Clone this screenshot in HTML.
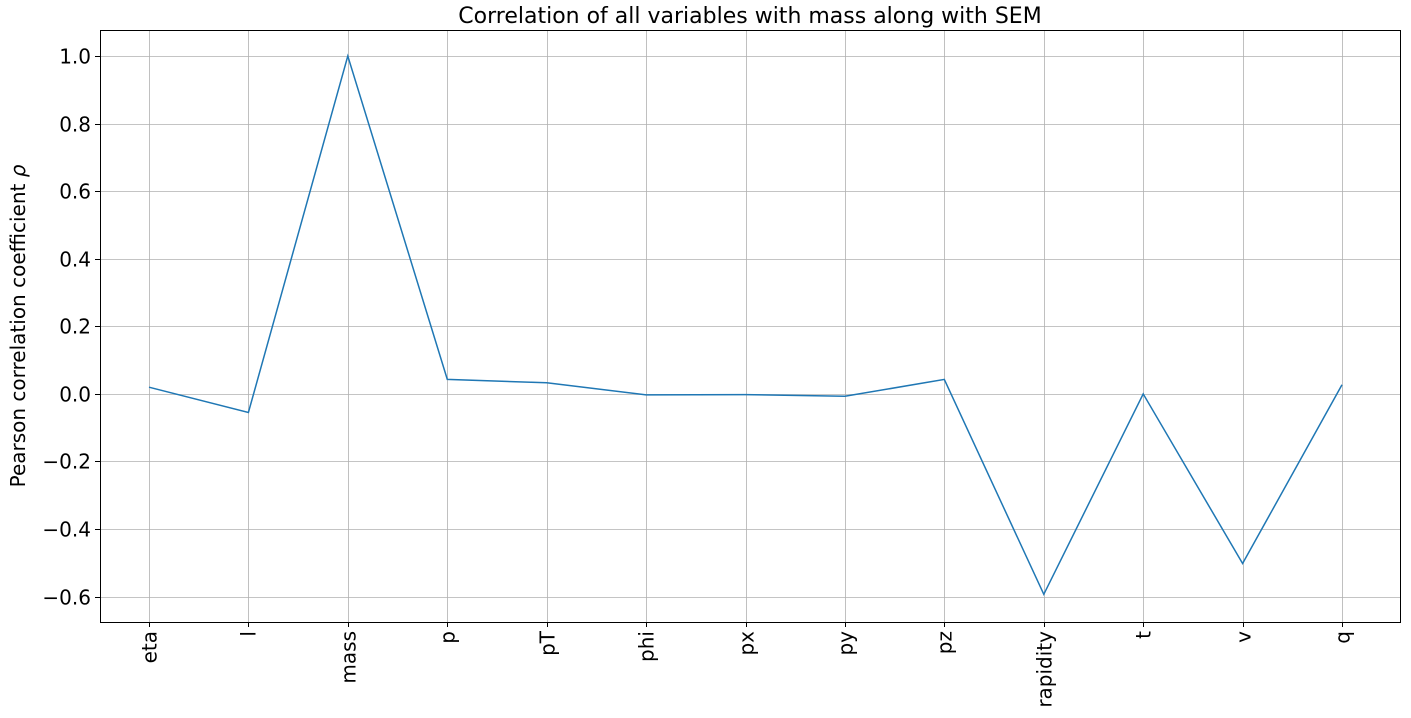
<!DOCTYPE html>
<html><head><meta charset="utf-8"><style>
html,body{margin:0;padding:0;background:#fff;}
svg text{font-family:"DejaVu Sans","Liberation Sans",sans-serif;fill:#000;}
</style></head><body>
<svg id="chart" width="1411" height="713" xmlns="http://www.w3.org/2000/svg">
<text x="750" y="23" font-size="22" text-anchor="middle">Correlation of all variables with mass along with SEM</text>
<text transform="translate(25,326) rotate(-90)" font-size="20" text-anchor="middle">Pearson correlation coefficient <tspan font-style="italic">ρ</tspan></text>
<g id="grid"></g><g id="ticks"></g><g id="series"></g>
<rect x="100.5" y="30.5" width="1300" height="592" fill="none" stroke="#000" stroke-width="1"/>
</svg>
<script>
const categories=["eta","l","mass","p","pT","phi","px","py","pz","rapidity","t","v","q"];
const values=[0.02,-0.055,1.0,0.043,0.033,-0.003,-0.002,-0.007,0.043,-0.593,0.0,-0.502,0.027];
const yTicks=[-0.6,-0.4,-0.2,0.0,0.2,0.4,0.6,0.8,1.0];
const yTickLabels=["−0.6","−0.4","−0.2","0.0","0.2","0.4","0.6","0.8","1.0"];
const NS="http://www.w3.org/2000/svg";
const L=100,R=1400,T=30,B=622;
const yMin=-0.675,yMax=1.077;
const y=v=>B-(v-yMin)/(yMax-yMin)*(B-T);
const x0=149,x1=1342;
const x=i=>x0+i*(x1-x0)/(categories.length-1);
function mk(tag,attrs,parent){const e=document.createElementNS(NS,tag);for(const k in attrs)e.setAttribute(k,attrs[k]);parent.appendChild(e);return e;}
const grid=document.getElementById('grid'),ticks=document.getElementById('ticks'),series=document.getElementById('series');
yTicks.forEach((v,i)=>{
 const yy=Math.round(y(v))+0.5;
 const g=mk('line',{x1:L,x2:R,y1:yy,y2:yy,stroke:'#b0b0b0','stroke-width':0.8},grid);
 
 
 mk('line',{x1:L-5,x2:L,y1:yy,y2:yy,stroke:'#000'},ticks);
 const t=mk('text',{x:L-9,y:yy+7,'font-size':20,'text-anchor':'end'},ticks);
 t.textContent=yTickLabels[i];
 
 
});
categories.forEach((c,i)=>{
 const xx=Math.round(x(i))+0.5;
 const g=mk('line',{x1:xx,x2:xx,y1:T,y2:B,stroke:'#b0b0b0','stroke-width':0.8},grid);
 
 
 mk('line',{x1:xx,x2:xx,y1:B,y2:B+5,stroke:'#000'},ticks);
 const t=mk('text',{transform:`translate(${xx+7},${B+9}) rotate(-90)`,'font-size':20,'text-anchor':'end'},ticks);
 t.textContent=c;
 
 
});
const pts=values.map((v,i)=>x(i).toFixed(1)+','+y(v).toFixed(1)).join(' ');
const line=mk('polyline',{points:pts,fill:'none',stroke:'#1f77b4','stroke-width':1.5},series);


</script>
</body></html>
